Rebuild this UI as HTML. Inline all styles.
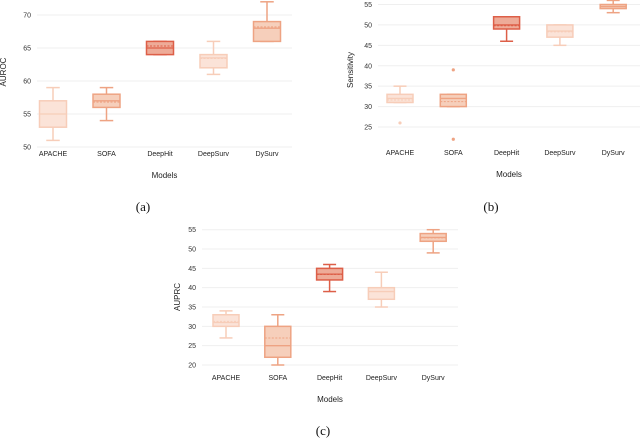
<!DOCTYPE html>
<html><head><meta charset="utf-8"><style>
body{margin:0;background:#fff}
svg{display:block;font-family:"Liberation Sans",sans-serif}
.cap{font-family:"Liberation Serif",serif;font-size:13px}
</style></head><body>
<svg id="s" width="640" height="438"></svg>
<script>
const categories=["APACHE","SOFA","DeepHit","DeepSurv","DySurv"];
// [whiskerLow, q1, median, q3, whiskerHigh, mean]
const aurocStats=[[51,53,55,57,59,55],[54,56,57,58,59,56.8],[64,64,65,66,66,65.3],[61,62,63.5,64,66,63.4],[66,66,68,69,72,68.2]];
const aurocTicks=[50,55,60,65,70];
const sensStats=[[31,31,32,33,35,31.6],[30,30,32,33,33,31.2],[46,49,50,52,52,49.8],[45,47,48.5,50,50,48.3],[53,54,54.5,55,56,54.5]];
const sensOutliers=[[26],[39,22],[],[],[]];
const sensTicks=[25,30,35,40,45,50,55];
const auprcStats=[[27,30,31,33,34,31.3],[20,22,25,30,33,27],[39,42,43.5,45,46,43.4],[35,37,39,40,44,39],[49,52,53,54,55,52.9]];
const auprcTicks=[20,25,30,35,40,45,50,55];

const fills=["#fbe3d8","#f6cfbb","#eeab98","#fbe3d8","#f6cfbb"];
const strokes=["#f7cdb9","#eea383","#dd5f48","#f7cdb9","#eea383"];
const NS="http://www.w3.org/2000/svg";
const svg=document.getElementById('s');
function mk(tag,attrs,parent,text){const e=document.createElementNS(NS,tag);for(const k in attrs)e.setAttribute(k,attrs[k]);if(text!==undefined)e.textContent=text;(parent||svg).appendChild(e);return e;}

function panel(p){
  const g=mk('g',{});
  
  
  const y=v=>p.y0+(v-p.v0)*(p.y1-p.y0)/(p.v1-p.v0);
  const x=i=>p.x0+i*p.dx;
  p.ticks.forEach(t=>{
    const l=mk('line',{x1:p.gx0,x2:p.gx1,y1:y(t),y2:y(t),stroke:"#efefef","stroke-width":1},g);
    
    
    const tx=mk('text',{x:p.gx0-6,y:y(t)+2.5,"font-size":7,"text-anchor":"end",fill:"#333"},g,t);
    
    
  });
  p.stats.forEach((s,i)=>{
    const cx=x(i),w=p.bw,f=fills[i],c=strokes[i];
    const b=mk('g',{},g);
    
    
    mk('line',{x1:cx,x2:cx,y1:y(s[0]),y2:y(s[1]),stroke:c,"stroke-width":1.5},b);
    mk('line',{x1:cx,x2:cx,y1:y(s[3]),y2:y(s[4]),stroke:c,"stroke-width":1.5},b);
    mk('line',{x1:cx-w/4,x2:cx+w/4,y1:y(s[0]),y2:y(s[0]),stroke:c,"stroke-width":1.5},b);
    mk('line',{x1:cx-w/4,x2:cx+w/4,y1:y(s[4]),y2:y(s[4]),stroke:c,"stroke-width":1.5},b);
    mk('rect',{x:cx-w/2,y:y(s[3]),width:w,height:Math.max(1,y(s[1])-y(s[3])),fill:f,stroke:c,"stroke-width":1.5},b);
    mk('line',{x1:cx-w/2,x2:cx+w/2,y1:y(s[2]),y2:y(s[2]),stroke:c,"stroke-width":1.3},b);
    mk('line',{x1:cx-w/2,x2:cx+w/2,y1:y(s[5]),y2:y(s[5]),stroke:c,"stroke-width":1,"stroke-dasharray":"2,1.5"},b);
    (p.outliers?p.outliers[i]:[]).forEach(o=>{
      const d=mk('circle',{cx:cx,cy:y(o),r:1.6,fill:c},g);
      
      
    });
    const lb=mk('text',{x:cx,y:p.catY,"font-size":7,"text-anchor":"middle",fill:"#222"},g,categories[i]);
    
    
  });
  const xt=mk('text',{x:(p.gx0+p.gx1)/2,y:p.catY+22,"font-size":8,"text-anchor":"middle",fill:"#222"},g,"Models");
  
  
  const yt=mk('text',{x:0,y:0,"font-size":8,"text-anchor":"middle",fill:"#222",transform:`translate(${p.ylx},${p.yly}) rotate(-90)`},g,p.ylabel);
  
  
  const cp=mk('text',{x:p.capX,y:p.capY,"text-anchor":"middle",class:"cap",fill:"#111"},g,p.cap);
  
  
}
panel({name:'auroc-panel',stats:aurocStats,ticks:aurocTicks,v0:50,v1:70,y0:147,y1:15,x0:53,dx:53.5,bw:27,gx0:37,gx1:292,catY:156,ylx:6,yly:72,ylabel:"AUROC",cap:"(a)",capX:143,capY:211});
panel({name:'sensitivity-panel',stats:sensStats,outliers:sensOutliers,ticks:sensTicks,v0:25,v1:55,y0:127,y1:4.5,x0:400,dx:53.3,bw:26,gx0:378,gx1:640,catY:155,ylx:353,yly:70,ylabel:"Sensitivity",cap:"(b)",capX:491,capY:211});
panel({name:'auprc-panel',stats:auprcStats,ticks:auprcTicks,v0:20,v1:55,y0:365,y1:229.7,x0:226,dx:51.8,bw:26,gx0:202,gx1:458,catY:380,ylx:180,yly:297,ylabel:"AUPRC",cap:"(c)",capX:323,capY:435});
</script>
</body></html>
